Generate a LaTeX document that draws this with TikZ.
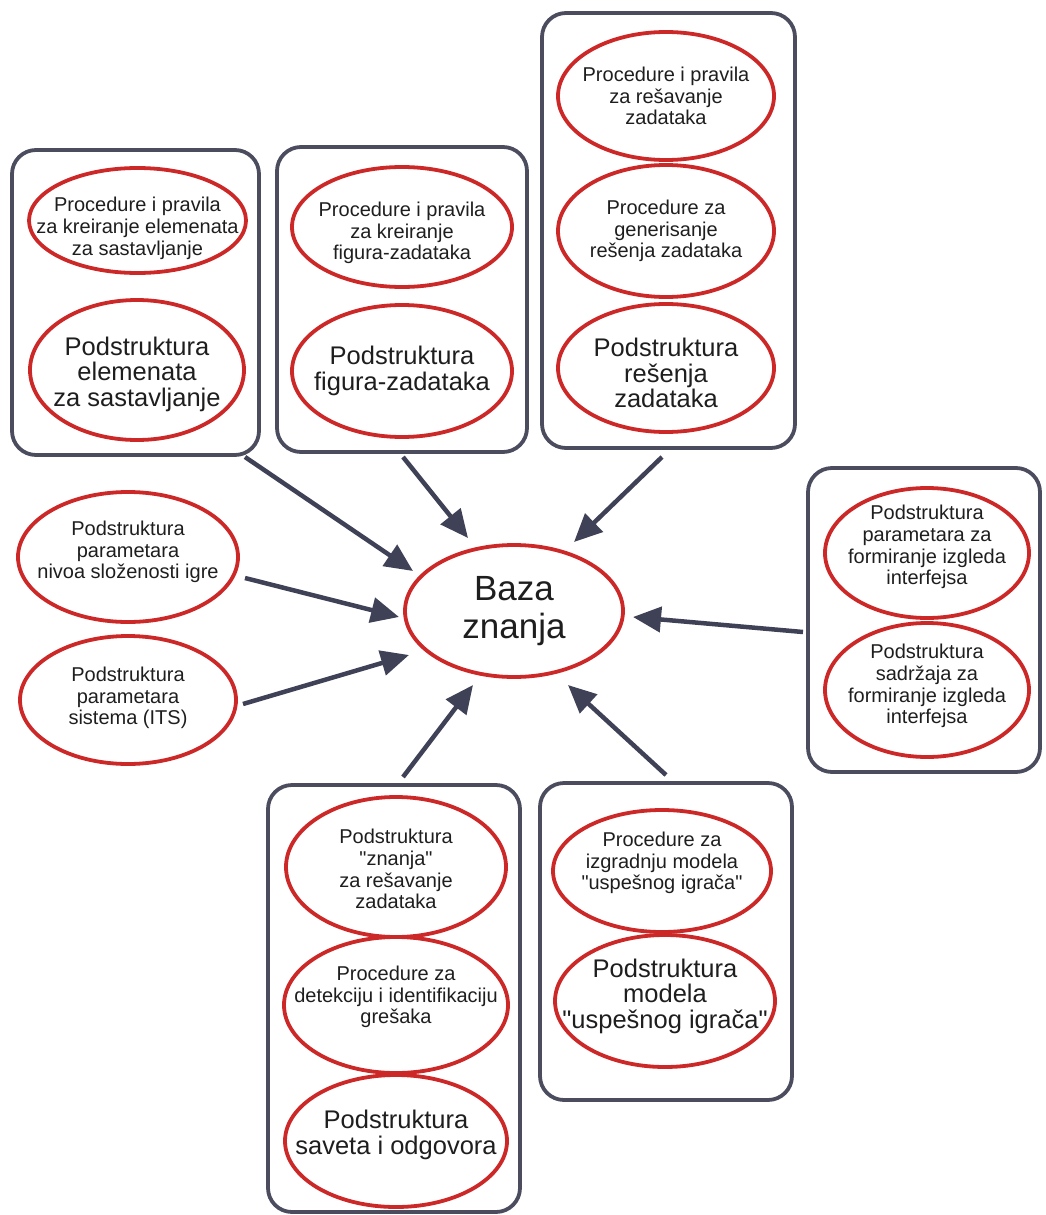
\documentclass[tikz,border=0pt]{standalone}
\usepackage{fontspec}
\setmainfont{Liberation Sans}[Ligatures=TeXOff]
\usetikzlibrary{shapes.geometric,arrows.meta}
\definecolor{ered}{RGB}{204,40,40}
\definecolor{boxc}{RGB}{75,77,95}
\definecolor{arrc}{RGB}{63,65,87}
\definecolor{txt}{RGB}{30,30,30}
\begin{document}
\begin{tikzpicture}[x=1pt,y=-1pt,
  ell/.style={ellipse, draw=ered, line width=3.8pt, inner sep=0pt},
  sm/.style 2 args={label={[align=center, text=txt, yshift=#1pt, font=\fontsize{20}{21.7}\selectfont]center:{#2}}},
  bg/.style 2 args={label={[align=center, text=txt, yshift=#1pt, font=\fontsize{25.5}{25.5}\selectfont]center:{#2}}},
  hg/.style={label={[align=center, text=txt, font=\fontsize{35}{38}\selectfont]center:{#1}}},
  grp/.style={rectangle, draw=boxc, line width=3.8pt, rounded corners=24pt, inner sep=0pt},
  arr/.style={draw=arrc, line width=4.5pt, -{Triangle[length=28pt,width=25pt]}},
]
\useasboundingbox (0,0) rectangle (1045,1215);

% group boxes
\node[grp, minimum width=247pt, minimum height=305pt] (b1) at (135.5,302.5) {};
\node[grp, minimum width=250pt, minimum height=305pt] (b2) at (402,299.5) {};
\node[grp, minimum width=253pt, minimum height=435pt] (b3) at (668.5,230.5) {};
\node[grp, minimum width=232pt, minimum height=304pt] (b4) at (924,620) {};
\node[grp, minimum width=252pt, minimum height=427pt] (b5) at (394,998.5) {};
\node[grp, minimum width=252pt, minimum height=317pt] (b6) at (666,941.5) {};

% box 1
\node[ell, minimum width=217pt, minimum height=105pt,
  sm={-8}{Procedure i pravila\\za kreiranje elemenata\\za sastavljanje}] (e1a) at (137.5,220.5) {};
\node[ell, minimum width=214pt, minimum height=140pt,
  bg={-4}{Podstruktura\\elemenata\\za sastavljanje}] (e1b) at (137,370) {};
% box 2
\node[ell, minimum width=220pt, minimum height=120pt,
  sm={-6}{Procedure i pravila\\za kreiranje\\figura-zadataka}] (e2a) at (402,227) {};
\node[ell, minimum width=220pt, minimum height=132pt,
  bg={0}{Podstruktura\\figura-zadataka}] (e2b) at (402,371) {};
% box 3
\node[ell, minimum width=216pt, minimum height=128pt,
  sm={0}{Procedure i pravila\\za rešavanje\\zadataka}] (e3a) at (666,96) {};
\node[ell, minimum width=216pt, minimum height=132pt,
  sm={0}{Procedure za\\generisanje\\rešenja zadataka}] (e3b) at (666,231) {};
\node[ell, minimum width=216pt, minimum height=128pt,
  bg={-5}{Podstruktura\\rešenja\\zadataka}] (e3c) at (666,368) {};
% box 4
\node[ell, minimum width=204pt, minimum height=130pt,
  sm={6}{Podstruktura\\parametara za\\formiranje izgleda\\interfejsa}] (e4a) at (927,553) {};
\node[ell, minimum width=204pt, minimum height=134pt,
  sm={4}{Podstruktura\\sadržaja za\\formiranje izgleda\\interfejsa}] (e4b) at (927,690) {};
% box 5
\node[ell, minimum width=220pt, minimum height=140pt,
  sm={-2}{Podstruktura\\"znanja"\\za rešavanje\\zadataka}] (e5a) at (396,867) {};
\node[ell, minimum width=224pt, minimum height=136pt,
  sm={8}{Procedure za\\detekciju i identifikaciju\\grešaka}] (e5b) at (396,1005) {};
\node[ell, minimum width=222pt, minimum height=132pt,
  bg={6}{Podstruktura\\saveta i odgovora}] (e5c) at (396,1141) {};
% box 6
\node[ell, minimum width=218pt, minimum height=122pt,
  sm={8}{Procedure za\\izgradnju modela\\"uspešnog igrača"}] (e6a) at (662,871) {};
\node[ell, minimum width=220pt, minimum height=132pt,
  bg={5}{Podstruktura\\modela\\"uspešnog igrača"}] (e6b) at (665,1001) {};
% standalone
\node[ell, minimum width=220pt, minimum height=130pt,
  sm={5}{Podstruktura\\parametara\\nivoa složenosti igre}] (niv) at (128,557) {};
\node[ell, minimum width=216pt, minimum height=128pt,
  sm={2}{Podstruktura\\parametara\\sistema (ITS)}] (sis) at (128,700) {};
% center
\node[ell, minimum width=218pt, minimum height=132pt,
  hg={Baza\\znanja}] (kb) at (514,611) {};

% arrow endpoints
\coordinate (s1) at (245,457); \coordinate (t1) at (413,571);
\coordinate (s2) at (403,457); \coordinate (t2) at (468,538);
\coordinate (s3) at (662,457); \coordinate (t3) at (574,542);
\coordinate (s4) at (245,578); \coordinate (t4) at (399,617);
\coordinate (s5) at (243,704); \coordinate (t5) at (409,655);
\coordinate (s6) at (803,632); \coordinate (t6) at (633,617);
\coordinate (s7) at (403,777); \coordinate (t7) at (473,685);
\coordinate (s8) at (666,775); \coordinate (t8) at (568,685);

\foreach \i in {1,...,8} { \draw[arr] (s\i) -- (t\i); }
\end{tikzpicture}
\end{document}
